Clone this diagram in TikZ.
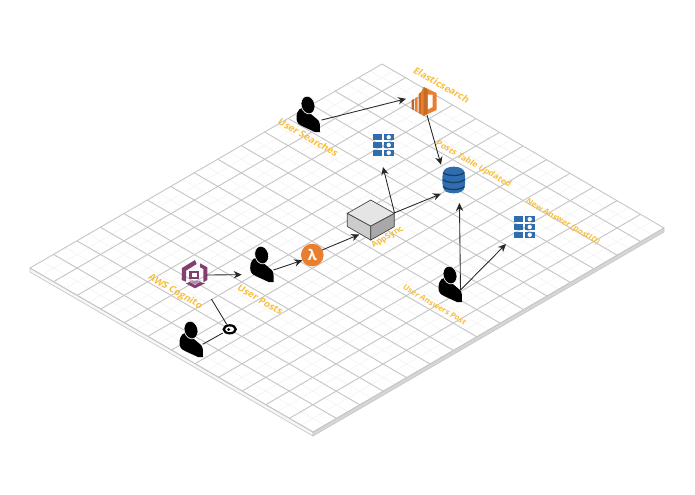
\documentclass[tikz,border=0pt]{standalone}
\usepackage{fontspec}
\setmainfont{Open Sans}
\usepackage{xcolor}
\usetikzlibrary{arrows.meta, calc}
\definecolor{tagorange}{HTML}{F7BE3F}
\definecolor{awsorange}{HTML}{E97F2E}
\definecolor{awsblue}{HTML}{2E6DB0}
\definecolor{awspurple}{HTML}{81406F}

\begin{document}
\begin{tikzpicture}[
    x=0.75pt, y=-0.75pt, % una unidad = un pixel
    >=Stealth,
    % Rejilla
    majorline/.style = {draw=black!22, line width=0.7pt},
    minorline/.style = {draw=black!5, line width=0.4pt},
    % Caja invisible que reserva el sitio de cada icono
    slot/.style 2 args = {rectangle, inner sep=0pt, outer sep=0pt, minimum width=#1pt, minimum height=#2pt},
    % Etiquetas sobre el plano
    downtag/.style = {text=tagorange, inner sep=0pt, cm={0.866,-0.5,0.62,0.78,(0,0)}, font=\bfseries\fontsize{#1}{9}\selectfont},
    uptag/.style = {text=tagorange, inner sep=0pt, cm={0.866,0.5,-0.62,0.78,(0,0)}, font=\bfseries\fontsize{#1}{9}\selectfont},
    % Estilo de las lineas
    connection/.style = {draw=black!85, ->, line width=0.65pt, -{Stealth[length=6pt, width=5.5pt]}},
    plainlink/.style = {draw=black!85, line width=0.65pt},
    % Iconos
    person/.pic = {
        \fill[black] (-11.5,13) .. controls (-11.5,5) and (-7,1) .. (-3,4)
            -- (10,15) .. controls (12,17) and (12,20) .. (12,27)
            -- (7,27) -- (-6,21) .. controls (-10,19) and (-11.5,17) .. (-11.5,13) -- cycle;
        \fill[black, draw=white, line width=0.5pt, rotate=15] (0,0) ellipse (6.8 and 9);
    },
    gridtable/.pic = {
        \foreach \row in {-11,-3.2,4.6} {
            \fill[awsblue] (-10.5,\row) rectangle (-1.5,\row+6.4);
            \fill[awsblue] (1,\row) rectangle (10.5,\row+6.4);
            \fill[white] (5.7,\row+3.2) circle (2.2);
        }
    },
]

    % --- PLANO ---
    \coordinate (top) at (382,64);
    \coordinate (left) at (30,268);
    \coordinate (bottom) at (313,432);
    \coordinate (right) at (664,228);

    \useasboundingbox (0,0) rectangle (695,494);

    % Grosor de la placa
    \filldraw[draw=black!22, fill=black!3, line width=0.5pt] (left) -- (bottom) -- ++(0,4) -- ($(left)+(0,4)$) -- cycle;
    \filldraw[draw=black!22, fill=black!16, line width=0.5pt] (bottom) -- (right) -- ++(0,4) -- ($(bottom)+(0,4)$) -- cycle;

    % Lineas finas
    \foreach \i in {1,...,29}
        \draw[minorline] ($(top)!\i/30!(left)$) -- ($(right)!\i/30!(bottom)$);
    \foreach \i in {1,...,23}
        \draw[minorline] ($(top)!\i/24!(right)$) -- ($(left)!\i/24!(bottom)$);
    % Lineas gruesas
    \foreach \i in {0,...,15}
        \draw[majorline] ($(top)!\i/15!(left)$) -- ($(right)!\i/15!(bottom)$);
    \foreach \i in {0,...,12}
        \draw[majorline] ($(top)!\i/12!(right)$) -- ($(left)!\i/12!(bottom)$);

    % --- NODOS ---

    % Usuarios
    \node[slot={19.5}{27}] (searcher) at (308.5,114) {};
    \pic at (308,105) {person};
    \node[slot={23.7}{27}] (poster) at (257.5,264) {};
    \pic at (261.7,255) {person};
    \node[slot={16.8}{27}] (signin) at (191.5,339) {};
    \pic at (191,330) {person};
    \node[slot={15}{27}] (answerer) at (450.5,284) {};
    \pic at (450,275) {person};

    % Elasticsearch
    \node[slot={27}{19.5}] (elastic) at (424,102) {};
    \fill[awsorange!80!black] (411.5,100) -- (414,99) -- (414,110) -- (411.5,109) -- cycle;
    \fill[awsorange] (415,98) -- (417.5,97) -- (417.5,112) -- (415,111) -- cycle;
    \fill[awsorange!85!black] (418.5,94) -- (421,92) -- (421,114) -- (418.5,113) -- cycle;
    \fill[awsorange] (421,92) -- (423.5,87) -- (436.5,93) -- (436.5,110) -- (423.5,116) -- (421,114) -- cycle;
    \fill[white] (427.7,94.5) -- (432.5,94.5) -- (432.5,107) -- (427.7,109.5) -- cycle;
    \fill[awsorange!85!black] (423.5,87) -- (427.7,89) -- (427.7,113.5) -- (423.5,116) -- cycle;

    % Tablas
    \node[slot={16.5}{33}] (posttable) at (383,145) {};
    \pic at (383,145) {gridtable};
    \node[slot={27}{25.5}] (answertable) at (524,227) {};
    \pic at (524,227) {gridtable};

    % DynamoDB
    \node[slot={18}{36}] (dynamo) at (453,179) {};
    \fill[awsblue] (443,173) .. controls (443,164.5) and (464.5,164.5) .. (464.5,173)
        .. controls (465.5,178) and (465.5,182) .. (464.5,187)
        .. controls (464.5,195.5) and (443,195.5) .. (443,187)
        .. controls (442,182) and (442,178) .. (443,173) -- cycle;
    \foreach \ylevel in {172.5,179.5,186.5}
        \draw[awsblue!55!black, line width=0.9pt] (443,\ylevel) .. controls (447,\ylevel+4) and (460.5,\ylevel+4) .. (464.5,\ylevel);

    % AppSync
    \node[slot={35.25}{21.75}] (appsync) at (371,220) {};
    \filldraw[draw=black!75, fill=black!20, line width=0.5pt] (347.3,213.3) -- (370.7,226) -- (370.7,240) -- (347.3,226.5) -- cycle;
    \filldraw[draw=black!75, fill=black!34, line width=0.5pt] (394.3,213.3) -- (370.7,226) -- (370.7,240) -- (394.3,226.7) -- cycle;
    \filldraw[draw=black!75, fill=black!10, line width=0.5pt] (370.7,200) -- (394.3,213.3) -- (370.7,226) -- (347.3,213.3) -- cycle;

    % Lambda
    \node[slot={18.5}{18}, circle, fill=awsorange, minimum size=17pt, text=white, font=\bfseries\fontsize{11}{11}\selectfont] (lambda) at (312.3,255) {λ};

    % Cognito
    \node[slot={19}{35}] (cognito) at (194,275) {};
    \fill[awspurple] (182,268) -- (195,260) -- (196.7,264) -- (186,270.7) -- (186,281.7) -- (181.7,280) -- cycle;
    \fill[awspurple] (200,263.3) -- (207.3,267.3) -- (207.3,280) -- (203.3,282.3) -- (203.3,269) -- (200,267.3) -- cycle;
    \fill[awspurple] (185.7,283.3) -- (190,282) -- (195,285) -- (200,282) -- (205,283.3) -- (195,288.3) -- cycle;
    \fill[awspurple] (189,270.7) rectangle (199.3,279.3);
    \fill[white] (192,273.3) rectangle (196.7,277.3);
    \fill[awspurple!60] (188.3,280.7) -- (201.7,280.7) -- (195,284.5) -- cycle;

    % Llave
    \node[slot={10.5}{7.5}] (keyring) at (229.7,329.3) {};
    \filldraw[draw=black, fill=white, line width=1.7pt] (229.7,329.3) ellipse (6 and 4);
    \fill[black] (228.7,329.5) ellipse (1.6 and 1.5);

    % --- ETIQUETAS ---
    \node[downtag=7.2] (elastictag) at (441.7,85) {Elasticsearch};
    \node[downtag=7.2] (searchertag) at (308.3,137.5) {User Searches};
    \node[downtag=6.3] (postedtag) at (473.3,164.2) {Posts Table Updated};
    \node[downtag=6] (answertag) at (562.5,222) {New Answer (postID)};
    \node[downtag=5.8] (answerertag) at (434.7,304.7) {User Answers Post};
    \node[uptag=6.2] (appsynctag) at (387.7,237.3) {AppSync};
    \node[downtag=7.2] (cognitotag) at (175.3,292) {AWS Cognito};
    \node[downtag=7.2] (postertag) at (260.3,299.7) {User Posts};

    % --- CONEXIONES ---
    \draw [connection] (searcher.-25) -- (elastic.170);
    \draw [connection] (elastic.-77) -- (dynamo.130);
    \draw [connection] (appsync.17) -- (posttable.south);
    \draw [connection] (appsync.17) -- (dynamo.231);
    \draw [connection] (answerer.-31) -- (dynamo.-75.3);
    \draw [connection] (answerer.-31) -- (answertable.south west);
    \draw [connection] (cognito.east) -- (poster.214);
    \draw [connection] (poster.-21) -- (lambda.208);
    \draw [connection] (lambda.27) -- (appsync.231);
    \draw [plainlink, shorten <=6.8pt] (cognito.-52) -- (keyring.121);
    \draw [plainlink] (signin.-25) -- (keyring.208);

\end{tikzpicture}
\end{document}
